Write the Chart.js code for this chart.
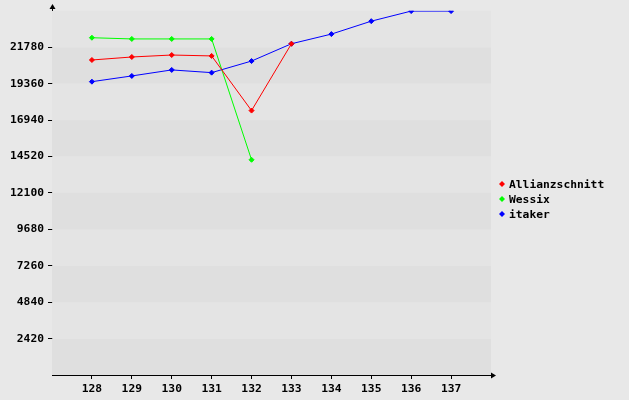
<!DOCTYPE html>
<html>
<head>
<meta charset="utf-8">
<script src="https://cdn.jsdelivr.net/npm/chart.js@4"></script>
<style>
html,body{margin:0;padding:0;background:#e8e8e8;}
#wrap{width:629px;height:400px;}
</style>
</head>
<body>
<div id="wrap"><canvas id="c" width="629" height="400"></canvas></div>
<script>
const categories = [128,129,130,131,132,133,134,135,136,137];
const allianzschnitt = [20930,21130,21260,21200,17570,22010];
const wessix = [22410,22330,22330,22330,14300];
const itaker = [19490,19870,20270,20090,20860,22010,22650,23510,24180,24180];
const yTicks = [2420,4840,7260,9680,12100,14520,16940,19360,21780];
const seriesNames = ['Allianzschnitt','Wessix','itaker'];
const seriesColors = ['#ff0000','#00ff00','#0000ff'];

const FAMILY = '"DejaVu Sans Mono", "Liberation Mono", monospace';
const FONT = 'bold 11.3px ' + FAMILY;

function pts(arr){ return arr.map((v,i)=>({x:categories[i], y:v})); }

const bandsPlugin = {
  id:'bands',
  beforeDatasetsDraw(chart){
    const {ctx, chartArea:a, scales:{y}} = chart;
    ctx.save();
    for(let i=0;i<10;i++){
      const y0 = y.getPixelForValue(i*2420), y1 = y.getPixelForValue((i+1)*2420);
      ctx.fillStyle = (i%2===1) ? '#e4e4e4' : '#dfdfdf';
      ctx.fillRect(a.left, y1, a.right-a.left, y0-y1);
    }
    ctx.restore();
  },
  afterDraw(chart){
    const {ctx, chartArea:a} = chart;
    ctx.save();
    ctx.strokeStyle='#000'; ctx.fillStyle='#000'; ctx.lineWidth=1;
    const ax = Math.round(a.left)+0.5;
    // y axis extension + arrow
    ctx.beginPath(); ctx.moveTo(ax, a.top); ctx.lineTo(ax, 7); ctx.stroke();
    ctx.beginPath(); ctx.moveTo(ax, 4); ctx.lineTo(ax-3, 9); ctx.lineTo(ax+3, 9); ctx.closePath(); ctx.fill();
    // x axis extension + arrow
    const by = Math.round(a.bottom)+0.5;
    ctx.beginPath(); ctx.moveTo(a.right, by); ctx.lineTo(493, by); ctx.stroke();
    ctx.beginPath(); ctx.moveTo(496, by); ctx.lineTo(491, by-3); ctx.lineTo(491, by+3); ctx.closePath(); ctx.fill();
    // legend
    ctx.font = FONT; ctx.textBaseline='middle'; ctx.textAlign='left';
    seriesNames.forEach((n,i)=>{
      const cy = 184 + i*15;
      ctx.fillStyle = seriesColors[i];
      ctx.beginPath(); ctx.moveTo(502,cy-3); ctx.lineTo(505,cy); ctx.lineTo(502,cy+3); ctx.lineTo(499,cy); ctx.closePath(); ctx.fill();
      ctx.fillStyle='#000';
      ctx.fillText(n, 509, cy+1);
    });
    ctx.restore();
  }
};

const ds = (label, data, color) => ({
  label, data: pts(data), borderColor: color, backgroundColor: color,
  borderWidth: 1, pointStyle: 'rectRot', pointRadius: 2.5, pointBorderWidth: 1,
  pointBackgroundColor: color, pointBorderColor: color, tension: 0
});

const tickFont = {family:FAMILY, size:11.3, weight:'bold'};

new Chart(document.getElementById('c'), {
  type: 'line',
  data: { datasets: [
    ds(seriesNames[0], allianzschnitt, seriesColors[0]),
    ds(seriesNames[1], wessix, seriesColors[1]),
    ds(seriesNames[2], itaker, seriesColors[2])
  ]},
  options: {
    responsive:false, animation:false, devicePixelRatio:1,
    layout:{ padding:{ top:10, right:138, left:0, bottom:0 } },
    plugins:{ legend:{display:false}, tooltip:{enabled:false} },
    scales:{
      x:{
        type:'linear', min:127, max:138,
        afterBuildTicks(s){ s.ticks = categories.map(v=>({value:v})); },
        afterFit(s){ s.height = 25; },
        grid:{ drawOnChartArea:false, drawTicks:true, tickLength:4, color:'#000' },
        border:{ display:true, color:'#000', width:1 },
        ticks:{ color:'#000', font:tickFont, padding:3, maxRotation:0, autoSkip:false, callback:v=>String(v) }
      },
      y:{
        min:0, max:24200,
        afterBuildTicks(s){ s.ticks = yTicks.map(v=>({value:v})); },
        afterFit(s){ s.width = 52; },
        grid:{ drawOnChartArea:false, drawTicks:true, tickLength:4, color:'#000' },
        border:{ display:true, color:'#000', width:1 },
        ticks:{ color:'#000', font:tickFont, padding:4, callback:v=>String(v) }
      }
    }
  },
  plugins:[bandsPlugin]
});
</script>
</body>
</html>
